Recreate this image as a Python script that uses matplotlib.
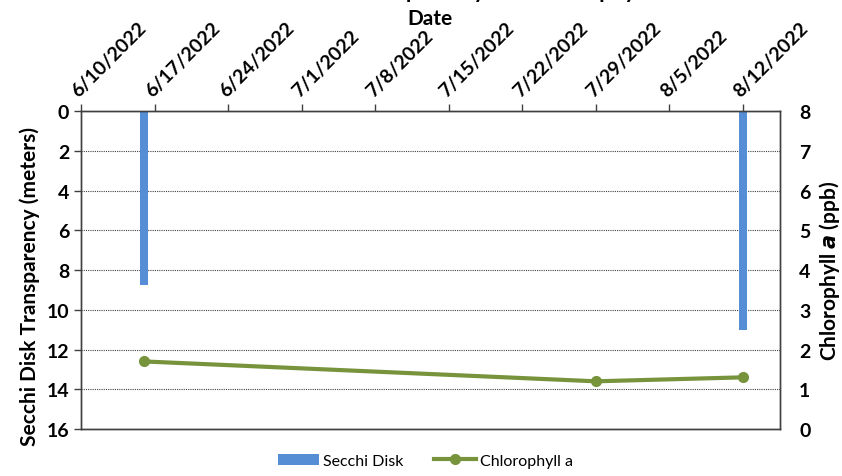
import matplotlib
matplotlib.use('Agg')
import matplotlib.pyplot as plt
import matplotlib.dates as mdates
from matplotlib.ticker import FuncFormatter
from datetime import datetime, timedelta

# data
secchi_dates = [datetime(2022, 6, 16), datetime(2022, 8, 12)]
secchi_depth = [8.75, 11.0]

chl_dates = [datetime(2022, 6, 16), datetime(2022, 7, 29), datetime(2022, 8, 12)]
chl_values = [1.7, 1.2, 1.3]

tick_dates = [datetime(2022, 6, 10) + timedelta(days=7 * i) for i in range(10)]

blue = '#558ED5'
green = '#77933C'
plt.rcParams['font.family'] = ['Lato', 'DejaVu Sans']

fig = plt.figure(figsize=(8.42, 4.77), dpi=100)
ax = fig.add_axes([0.0962, 0.0985, 0.8298, 0.6667])

ax.bar(secchi_dates, secchi_depth, width=0.8, color=blue, label='Secchi Disk', zorder=2)
ax.set_ylim(16, 0)
ax.set_yticks(range(0, 17, 2))
ax.yaxis.grid(True, linestyle=(0, (1, 1)), color='#404040', linewidth=0.8, zorder=0)

ax.set_xlim(datetime(2022, 6, 10), datetime(2022, 8, 15, 12))
ax.set_xticks(tick_dates)
ax.xaxis.set_major_formatter(FuncFormatter(
    lambda v, p: (lambda d: f'{d.month}/{d.day}/{d.year}')(mdates.num2date(v))))
ax.xaxis.tick_top()
ax.xaxis.set_label_position('top')
ax.tick_params(axis='both', direction='out', length=5, width=1, colors='#404040',
               labelcolor='black', labelsize=14)
plt.setp(ax.get_xticklabels(), rotation=45, ha='left', va='bottom',
         rotation_mode='anchor', fontweight='bold', fontsize=14)
ax.set_xlabel('Date', fontweight='bold', fontsize=15)
ax.xaxis.set_label_coords(0.5, 1.274)
ax.set_ylabel('Secchi Disk Transparency (meters)', fontweight='bold', fontsize=15)
ax.yaxis.set_label_coords(-0.059, 0.45)
for lbl in ax.get_yticklabels():
    lbl.set_fontweight('bold')

ax2 = ax.twinx()
ax2.plot(chl_dates, chl_values, color=green, linewidth=3, marker='o', markersize=7,
         label='Chlorophyll a', zorder=3)
ax2.set_ylim(0, 8)
ax2.set_yticks(range(0, 9))
ax2.tick_params(axis='y', length=0, labelsize=14, pad=14)
for lbl in ax2.get_yticklabels():
    lbl.set_fontweight('bold')
ax2.set_ylabel(r'Chlorophyll $\mathbfit{a}$ (ppb)', fontweight='bold', fontsize=15, labelpad=5)

for a in (ax, ax2):
    for s in a.spines.values():
        s.set_color('#404040')
        s.set_linewidth(1)

h1, l1 = ax.get_legend_handles_labels()
h2, l2 = ax2.get_legend_handles_labels()
fig.legend(h1 + h2, l1 + l2, loc='center', bbox_to_anchor=(0.505, 0.032), ncol=2,
           frameon=False, fontsize=11.5, handlelength=2.6, handletextpad=0.25,
           columnspacing=1.9)

# title is cut off at the top edge in the reference, only its descenders show
fig.text(0.5, 1.0 + 2 / 477, 'Lake Secchi Disk Transparency and Chlorophyll a',
         ha='center', va='baseline', fontweight='bold', fontsize=16)

fig.savefig('out.png', dpi=100)
